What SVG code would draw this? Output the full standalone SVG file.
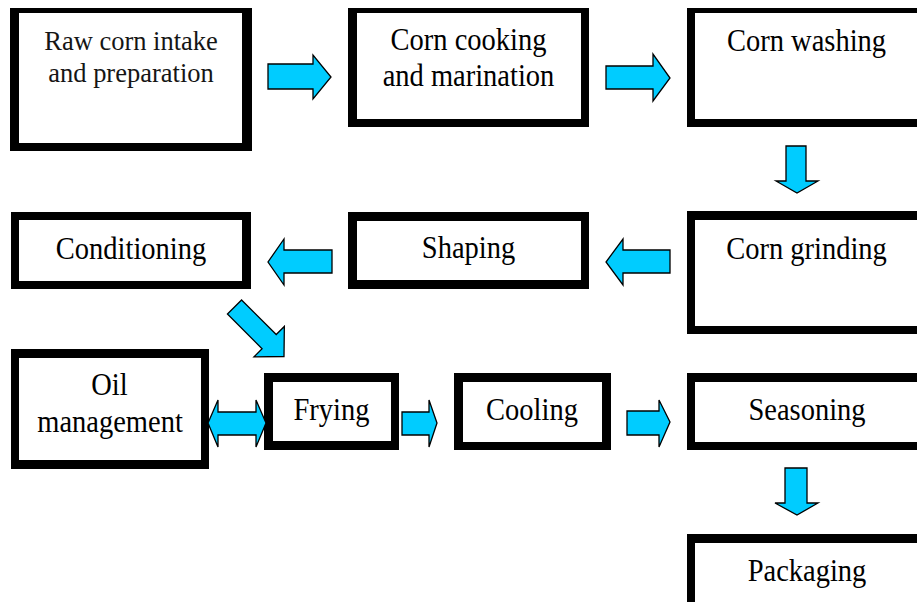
<svg xmlns="http://www.w3.org/2000/svg" width="917" height="602" viewBox="0 0 917 602">
  <style>
    .frame { fill: #000000; }
    .inner { fill: #ffffff; }
    .lbl { font-family: 'Liberation Serif', serif; font-size: 28.5px; fill: #000000; text-anchor: middle; }
    .lbl-g { font-family: 'Liberation Serif', serif; font-size: 26.5px; fill: #151515; text-anchor: middle; }
    .arrow { fill: #00CCFF; stroke: #000000; stroke-width: 1.3; stroke-linejoin: miter; }
  </style>
  <rect width="917" height="602" fill="#ffffff"/>

  <!-- process steps: thick black frame drawn as outer black + inner white;
       labels are slightly stretched vertically -->
  <g id="raw-corn-intake">
    <rect class="frame" x="10" y="8" width="242" height="143"/>
    <rect class="inner" x="19" y="13" width="223" height="130"/>
    <text class="lbl-g" transform="translate(131 50) scale(1 1.05)">Raw corn intake</text>
    <text class="lbl-g" transform="translate(131 82) scale(1 1.05)">and preparation</text>
  </g>

  <g id="corn-cooking">
    <rect class="frame" x="348" y="8" width="241" height="119"/>
    <rect class="inner" x="357" y="13" width="224" height="106"/>
    <text class="lbl" transform="translate(468.5 50) scale(1 1.08)">Corn cooking</text>
    <text class="lbl" transform="translate(468.5 86) scale(1 1.08)">and marination</text>
  </g>

  <g id="corn-washing">
    <rect class="frame" x="687" y="8" width="240" height="119"/>
    <rect class="inner" x="695" y="13" width="232" height="106"/>
    <text class="lbl" transform="translate(806.5 51) scale(1 1.08)">Corn washing</text>
  </g>

  <g id="corn-grinding">
    <rect class="frame" x="687" y="211" width="240" height="123"/>
    <rect class="inner" x="695" y="220" width="232" height="106"/>
    <text class="lbl" transform="translate(806.5 259) scale(1 1.08)">Corn grinding</text>
  </g>

  <g id="shaping">
    <rect class="frame" x="348" y="212" width="241" height="77"/>
    <rect class="inner" x="357" y="221" width="224" height="59"/>
    <text class="lbl" transform="translate(468.5 258) scale(1 1.08)">Shaping</text>
  </g>

  <g id="conditioning">
    <rect class="frame" x="11" y="212" width="240" height="77"/>
    <rect class="inner" x="19" y="220" width="223" height="61"/>
    <text class="lbl" transform="translate(131 259) scale(1 1.08)">Conditioning</text>
  </g>

  <g id="oil-management">
    <rect class="frame" x="11" y="349" width="198" height="120"/>
    <rect class="inner" x="19" y="358" width="182" height="102"/>
    <text class="lbl" transform="translate(109.5 395) scale(1 1.08)">Oil</text>
    <text class="lbl" transform="translate(110 432) scale(1 1.08)">management</text>
  </g>

  <g id="frying">
    <rect class="frame" x="264" y="373" width="135" height="77"/>
    <rect class="inner" x="273" y="382" width="118" height="59"/>
    <text class="lbl" transform="translate(331.5 420) scale(1 1.08)">Frying</text>
  </g>

  <g id="cooling">
    <rect class="frame" x="454" y="373" width="157" height="77"/>
    <rect class="inner" x="463" y="382" width="139" height="60"/>
    <text class="lbl" transform="translate(532 420) scale(1 1.08)">Cooling</text>
  </g>

  <g id="seasoning">
    <rect class="frame" x="687" y="373" width="240" height="77"/>
    <rect class="inner" x="695" y="382" width="232" height="60"/>
    <text class="lbl" transform="translate(807 420) scale(1 1.08)">Seasoning</text>
  </g>

  <g id="packaging">
    <rect class="frame" x="687" y="534" width="240" height="80"/>
    <rect class="inner" x="695" y="543" width="232" height="70"/>
    <text class="lbl" transform="translate(807 581) scale(1 1.08)">Packaging</text>
  </g>

  <!-- block arrows between steps -->
  <g id="connectors">
    <polygon class="arrow" points="268,64 313,64 313,55 331,77 313,99 313,89 268,89"/>
    <polygon class="arrow" points="606,66 653,66 653,54 670,78 653,101 653,89 606,89"/>
    <polygon class="arrow" points="786,146 806,146 806,181 818,181 797,193 776,181 786,181"/>
    <polygon class="arrow" points="670,250 623,250 623,239 606,262 623,285 623,273 670,273"/>
    <polygon class="arrow" points="332,250 284,250 284,239 268,262 284,285 284,273 332,273"/>
    <polygon class="arrow" transform="translate(234.5 307) rotate(45)" points="0,-10 49,-10 49,-21.5 70,0 49,21.5 49,10 0,10"/>
    <polygon class="arrow" points="208,423 218,400 218,412 256,412 256,400 266,423 256,447 256,435 218,435 218,447"/>
    <polygon class="arrow" points="402,412 429,412 429,400 437,423 429,447 429,435 402,435"/>
    <polygon class="arrow" points="627,411 659,411 659,400 670,422 659,447 659,435 627,435"/>
    <polygon class="arrow" points="785,468 807,468 807,503 818,503 797,515 775,503 785,503"/>
  </g>
</svg>
